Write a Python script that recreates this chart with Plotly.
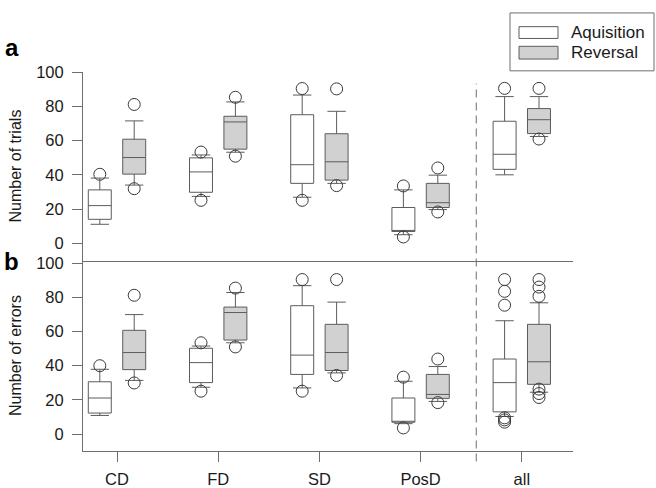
import plotly.graph_objects as go

# ---------------- data ----------------
categories = ["CD", "FD", "SD", "PosD", "all"]
group_names = ["Aquisition", "Reversal"]

# Panel a: Number of trials
trials_acq_lower = [11.1, 27.4, 26.9, 5.0, 40.0]
trials_acq_q1 = [14.0, 29.8, 35.0, 6.9, 43.2]
trials_acq_median = [22.0, 41.7, 45.9, 7.5, 52.0]
trials_acq_q3 = [31.2, 49.9, 75.1, 20.9, 71.3]
trials_acq_upper = [38.1, 51.6, 86.6, 31.2, 85.7]
trials_acq_out = [[40.3], [25.1, 53.3], [25.1, 90.4], [3.7, 33.5], [90.5]]

trials_rev_lower = [34.0, 53.2, 35.0, 19.7, 62.4]
trials_rev_q1 = [40.4, 55.0, 36.9, 20.9, 64.1]
trials_rev_median = [50.1, 70.9, 47.6, 23.7, 72.2]
trials_rev_q3 = [60.8, 74.2, 64.0, 35.0, 78.7]
trials_rev_upper = [71.5, 82.6, 77.1, 39.8, 85.7]
trials_rev_out = [[31.9, 81.1], [50.9, 85.3], [33.7, 90.2], [18.3, 44.0], [60.9, 90.5]]

# Panel b: Number of errors
errors_acq_lower = [10.9, 27.4, 27.0, 6.1, 10.3]
errors_acq_q1 = [12.3, 30.1, 34.9, 6.9, 13.0]
errors_acq_median = [21.1, 41.8, 46.2, 7.4, 30.1]
errors_acq_q3 = [30.6, 50.2, 75.1, 21.1, 43.9]
errors_acq_upper = [37.9, 51.5, 86.8, 30.9, 66.3]
errors_acq_out = [[40.0], [25.1, 53.4], [25.1, 90.4], [3.6, 33.3],
                  [7.0, 8.3, 9.5, 75.4, 83.5, 90.4]]

errors_rev_lower = [31.4, 53.4, 35.8, 19.1, 24.5]
errors_rev_q1 = [37.7, 55.0, 37.2, 20.9, 29.1]
errors_rev_median = [47.7, 71.1, 47.7, 23.2, 42.3]
errors_rev_q3 = [60.7, 74.3, 64.2, 34.9, 64.2]
errors_rev_upper = [69.9, 82.8, 77.2, 39.5, 76.8]
errors_rev_out = [[29.9, 81.2], [51.0, 85.4], [34.3, 90.4], [18.4, 43.9],
                  [21.4, 23.7, 26.3, 80.6, 86.0, 90.4]]

y_ticks = [0, 20, 40, 60, 80, 100]

# ---------------- style ----------------
W, H = 656, 488
FONT = "Liberation Sans, Arial, Helvetica, sans-serif"
LINE = "#5c5c5c"
AXIS = "#6e6e6e"
TEXT = "#1a1a1a"
FILLS = ["#ffffff", "#d1d1d1"]
OFFSETS = [-0.17, 0.17]
BOX_W = 0.227

def px_x(p):
    return p / W

def px_y(p):
    return (H - p) / H

fig = go.Figure()

panels = [
    ("x", "y", [
        (trials_acq_lower, trials_acq_q1, trials_acq_median, trials_acq_q3, trials_acq_upper, trials_acq_out),
        (trials_rev_lower, trials_rev_q1, trials_rev_median, trials_rev_q3, trials_rev_upper, trials_rev_out),
    ]),
    ("x2", "y2", [
        (errors_acq_lower, errors_acq_q1, errors_acq_median, errors_acq_q3, errors_acq_upper, errors_acq_out),
        (errors_rev_lower, errors_rev_q1, errors_rev_median, errors_rev_q3, errors_rev_upper, errors_rev_out),
    ]),
]

for xa, ya, series in panels:
    for g, (lo, q1, med, q3, up, outs) in enumerate(series):
        xs = [i + OFFSETS[g] for i in range(len(categories))]
        fig.add_trace(go.Box(
            x=xs, q1=q1, median=med, q3=q3, lowerfence=lo, upperfence=up,
            width=BOX_W, whiskerwidth=0.8, boxpoints=False,
            fillcolor=FILLS[g], line=dict(color=LINE, width=1),
            name=group_names[g], showlegend=False, xaxis=xa, yaxis=ya,
        ))
        ox, oy = [], []
        for i, vals in enumerate(outs):
            for v in vals:
                ox.append(i + OFFSETS[g])
                oy.append(v)
        fig.add_trace(go.Scatter(
            x=ox, y=oy, mode="markers",
            marker=dict(symbol="circle-open", size=12, color="#3a3a3a",
                        line=dict(width=1, color="#3a3a3a")),
            showlegend=False, xaxis=xa, yaxis=ya, hoverinfo="y",
        ))

x_dom = [px_x(83), px_x(573)]
x_range = [-0.336, 4.506]
common_y = dict(showline=True, linecolor=AXIS, linewidth=1, ticks="outside",
                ticklen=10, tickcolor=AXIS, tickwidth=1, tickvals=y_ticks,
                showgrid=False, zeroline=False, ticklabelstandoff=5,
                tickfont=dict(family=FONT, size=16.5, color=TEXT))

fig.update_layout(
    width=W, height=H,
    margin=dict(l=0, r=0, t=0, b=0),
    paper_bgcolor="white", plot_bgcolor="white",
    showlegend=False,
    xaxis=dict(domain=x_dom, range=x_range, anchor="y", showline=True,
               linecolor=AXIS, linewidth=1, ticks="", showticklabels=False,
               showgrid=False, zeroline=False),
    xaxis2=dict(domain=x_dom, range=x_range, anchor="y2", showline=True,
                linecolor=AXIS, linewidth=1, ticks="outside", ticklen=10,
                tickcolor=AXIS, tickvals=list(range(len(categories))),
                ticktext=categories, showgrid=False, zeroline=False,
                ticklabelstandoff=3,
                tickfont=dict(family=FONT, size=16.5, color=TEXT)),
    yaxis=dict(domain=[px_y(257), px_y(64.3)], range=[-10.5, 100], anchor="x", **common_y),
    yaxis2=dict(domain=[px_y(450.3), px_y(257)], range=[-9.9, 101.1], anchor="x2", **common_y),
)

shapes = [
    # dashed separator between PosD and all
    dict(type="line", xref="x2", yref="paper", x0=3.55, x1=3.55,
         y0=px_y(461), y1=px_y(76), line=dict(color=AXIS, width=1, dash="8px,5px")),
    # legend frame
    dict(type="rect", xref="paper", yref="paper", x0=px_x(510), x1=px_x(654),
         y0=px_y(63), y1=px_y(4), line=dict(color=AXIS, width=1), fillcolor="white"),
    dict(type="rect", xref="paper", yref="paper", x0=px_x(519), x1=px_x(558),
         y0=px_y(30), y1=px_y(18), line=dict(color=LINE, width=1), fillcolor=FILLS[0]),
    dict(type="rect", xref="paper", yref="paper", x0=px_x(519), x1=px_x(558),
         y0=px_y(51), y1=px_y(38), line=dict(color=LINE, width=1), fillcolor=FILLS[1]),
]
fig.update_layout(shapes=shapes)

ann = []
for text, yc in [(group_names[0], 24), (group_names[1], 44.5)]:
    ann.append(dict(text=text, xref="paper", yref="paper", x=px_x(569), y=px_y(yc),
                    xanchor="left", yanchor="middle", showarrow=False,
                    font=dict(family=FONT, size=17, color=TEXT)))
for text, yc in [("Number of trials", 160.5), ("Number of errors", 353.5)]:
    ann.append(dict(text=text, xref="paper", yref="paper", x=px_x(16), y=px_y(yc),
                    xanchor="center", yanchor="middle", textangle=-90, showarrow=False,
                    font=dict(family=FONT, size=16, color=TEXT)))
for text, xc, yc in [("<b>a</b>", 11.5, 39), ("<b>b</b>", 11.5, 257)]:
    ann.append(dict(text=text, xref="paper", yref="paper", x=px_x(xc), y=px_y(yc),
                    xanchor="center", yanchor="middle", showarrow=False,
                    font=dict(family=FONT, size=24, color="#000000")))
fig.update_layout(annotations=ann)

fig.write_html("out.html", config={"displayModeBar": False},
               post_script="document.body.style.margin='0';document.body.style.overflow='hidden';")
